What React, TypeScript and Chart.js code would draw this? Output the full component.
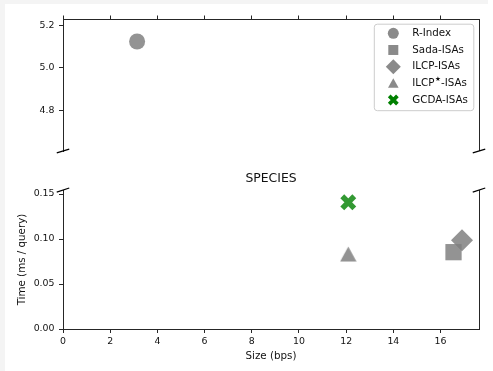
import { useEffect, useRef } from 'react';
import { Chart, registerables } from 'chart.js';

Chart.register(...registerables);

// ---- data ----
const seriesNames = ['R-Index', 'Sada-ISAs', 'ILCP-ISAs', 'ILCP★-ISAs', 'GCDA-ISAs'];
const sizeBps = [3.14, 16.55, 16.91, 12.09, 12.09];
const timeMs = [5.124, 0.0854, 0.0987, 0.0833, 0.1408];
const markerStyles = ['circle', 'rect', 'rectRot', 'triangle', 'crossRot'];

const xTicks = [0, 2, 4, 6, 8, 10, 12, 14, 16];
const xTickLabels = ['0', '2', '4', '6', '8', '10', '12', '14', '16'];
const topYTicks = [4.8, 5.0, 5.2];
const topYTickLabels = ['4.8', '5.0', '5.2'];
const bottomYTicks = [0, 0.05, 0.1, 0.15];
const bottomYTickLabels = ['0.00', '0.05', '0.10', '0.15'];

const titleText = 'SPECIES';
const xTitle = 'Size (bps)';
const yTitle = 'Time (ms / query)';

// ---- axis ranges ----
const X_MIN = 0;
const X_MAX = 17.63;
const TOP_Y_MIN = 4.6095;
const TOP_Y_MAX = 5.2297;
const BOT_Y_MIN = 0;
const BOT_Y_MAX = 0.1544;

// ---- styles ----
const FONT = "'DejaVu Sans', 'Liberation Sans', sans-serif";
const AXIS = '#262626';
const TEXT = '#111111';
const STRIP = '#f4f4f4';
const plotColors = [
  'rgba(128,128,128,0.85)',
  'rgba(128,128,128,0.85)',
  'rgba(128,128,128,0.85)',
  'rgba(128,128,128,0.85)',
  'rgba(0,128,0,0.8)',
];
const legendColors = ['#8a8a8a', '#8a8a8a', '#8a8a8a', '#8a8a8a', '#008000'];
const markerRadius = [8, 11.5, 11, 9.3, 8.5];

// triangle marker centred on its bounding box (like matplotlib '^')
function triangleImage(color: string) {
  const c = document.createElement('canvas');
  c.width = 17;
  c.height = 16;
  const g = c.getContext('2d') as CanvasRenderingContext2D;
  g.fillStyle = color;
  g.beginPath();
  g.moveTo(8.5, 0.5);
  g.lineTo(16.7, 15.5);
  g.lineTo(0.3, 15.5);
  g.closePath();
  g.fill();
  return c;
}

function makeDatasets() {
  return seriesNames.map((name, i) => {
    const style = markerStyles[i];
    const isCross = style === 'crossRot';
    const pointStyle: any = style === 'triangle' ? triangleImage(plotColors[i]) : style;
    return {
      label: name,
      data: [{ x: sizeBps[i], y: timeMs[i] }],
      pointStyle,
      pointRadius: markerRadius[i],
      pointHoverRadius: markerRadius[i],
      backgroundColor: plotColors[i],
      borderColor: plotColors[i],
      borderWidth: isCross ? 5.5 : 0,
      order: seriesNames.length - i,
    };
  });
}

function framePlugin(breakAt: 'top' | 'bottom') {
  return {
    id: 'frame',
    afterDraw(chart: any) {
      const { ctx, chartArea: a } = chart;
      ctx.save();
      ctx.strokeStyle = AXIS;
      ctx.lineWidth = 1;
      const rx = Math.round(a.right - 0.5) + 0.5;
      ctx.beginPath();
      ctx.moveTo(rx, a.top);
      ctx.lineTo(rx, a.bottom);
      ctx.stroke();
      const yb = breakAt === 'bottom' ? a.bottom : a.top;
      const dx = 0.015 * (a.right - a.left);
      const dy = 0.015 * (a.bottom - a.top);
      ctx.strokeStyle = '#000';
      ctx.lineWidth = 1.3;
      for (const x of [a.left, a.right]) {
        ctx.beginPath();
        ctx.moveTo(x - dx, yb + dy);
        ctx.lineTo(x + dx, yb - dy);
        ctx.stroke();
      }
      ctx.restore();
    },
  };
}

function drawLegendMarker(ctx: CanvasRenderingContext2D, style: string, x: number, y: number, color: string) {
  ctx.save();
  ctx.fillStyle = color;
  ctx.strokeStyle = color;
  ctx.beginPath();
  if (style === 'circle') {
    ctx.arc(x, y, 5.5, 0, Math.PI * 2);
    ctx.fill();
  } else if (style === 'rect') {
    ctx.rect(x - 5, y - 5, 10, 10);
    ctx.fill();
  } else if (style === 'rectRot') {
    ctx.moveTo(x, y - 7.5);
    ctx.lineTo(x + 7.5, y);
    ctx.lineTo(x, y + 7.5);
    ctx.lineTo(x - 7.5, y);
    ctx.closePath();
    ctx.fill();
  } else if (style === 'triangle') {
    ctx.moveTo(x, y - 5);
    ctx.lineTo(x + 5.3, y + 4.5);
    ctx.lineTo(x - 5.3, y + 4.5);
    ctx.closePath();
    ctx.fill();
  } else if (style === 'crossRot') {
    const o = 4.1;
    ctx.lineWidth = 3.8;
    ctx.moveTo(x - o, y - o);
    ctx.lineTo(x + o, y + o);
    ctx.moveTo(x + o, y - o);
    ctx.lineTo(x - o, y + o);
    ctx.stroke();
  }
  ctx.restore();
}

const legendPlugin = {
  id: 'customLegend',
  afterDraw(chart: any) {
    const { ctx, chartArea: a } = chart;
    const w = 99.5;
    const h = 86.5;
    const right = a.right - 5.2;
    const top = a.top + 5.2;
    const left = right - w;
    const r = 3;
    ctx.save();
    ctx.beginPath();
    ctx.moveTo(left + r, top);
    ctx.lineTo(right - r, top);
    ctx.arcTo(right, top, right, top + r, r);
    ctx.lineTo(right, top + h - r);
    ctx.arcTo(right, top + h, right - r, top + h, r);
    ctx.lineTo(left + r, top + h);
    ctx.arcTo(left, top + h, left, top + h - r, r);
    ctx.lineTo(left, top + r);
    ctx.arcTo(left, top, left + r, top, r);
    ctx.closePath();
    ctx.fillStyle = 'rgba(255,255,255,0.8)';
    ctx.fill();
    ctx.strokeStyle = '#cccccc';
    ctx.lineWidth = 1;
    ctx.stroke();

    const mainFont = `10.3px ${FONT}`;
    const supFont = `6.5px ${FONT}`;
    seriesNames.forEach((name, i) => {
      const cy = top + 9.1 + i * 16.67;
      drawLegendMarker(ctx, markerStyles[i], left + 19, cy, legendColors[i]);
      ctx.fillStyle = TEXT;
      ctx.textBaseline = 'middle';
      ctx.textAlign = 'left';
      let tx = left + 38;
      const parts = name.split('★');
      ctx.font = mainFont;
      if (parts.length === 2) {
        ctx.fillText(parts[0], tx, cy);
        tx += ctx.measureText(parts[0]).width + 0.6;
        ctx.font = supFont;
        ctx.fillText('★', tx, cy - 3.6);
        tx += ctx.measureText('★').width + 0.2;
        ctx.font = mainFont;
        ctx.fillText(parts[1], tx, cy);
      } else {
        ctx.fillText(name, tx, cy);
      }
    });
    ctx.restore();
  },
};

const tickFont = { family: FONT, size: 9.4 };
const labelFont = { family: FONT, size: 10.3 };

function yAxis(min: number, max: number, ticks: number[], labels: string[], title?: string) {
  return {
    type: 'linear' as const,
    position: 'left' as const,
    min,
    max,
    afterBuildTicks: (s: any) => {
      s.ticks = ticks.map((v) => ({ value: v }));
    },
    ticks: {
      font: tickFont,
      color: TEXT,
      padding: 4.5,
      callback: (_v: any, i: number) => labels[i],
    },
    grid: { drawOnChartArea: false, drawTicks: true, tickLength: 4, color: AXIS, lineWidth: 1 },
    border: { display: true, color: AXIS, width: 1 },
    title: title
      ? { display: true, text: title, font: labelFont, color: TEXT, padding: { top: 15.8, bottom: 0 } }
      : { display: false },
    afterFit: (s: any) => {
      s.width = 63;
    },
  };
}

function topConfig(): any {
  return {
    type: 'scatter',
    data: { datasets: makeDatasets() },
    options: {
      animation: false,
      responsive: false,
      devicePixelRatio: 1,
      events: [],
      layout: { padding: { left: 0, right: 12, top: 0, bottom: 6 } },
      plugins: { legend: { display: false }, tooltip: { enabled: false }, title: { display: false } },
      scales: {
        x: {
          type: 'linear',
          position: 'top',
          min: X_MIN,
          max: X_MAX,
          afterBuildTicks: (s: any) => {
            s.ticks = xTicks.map((v) => ({ value: v }));
          },
          ticks: { font: tickFont, color: 'rgba(0,0,0,0)', callback: (_v: any, i: number) => xTickLabels[i] },
          grid: { drawOnChartArea: false, drawTicks: true, tickLength: 3.5, color: AXIS, lineWidth: 1 },
          border: { display: true, color: AXIS, width: 1 },
          afterFit: (s: any) => {
            s.height = 19;
          },
        },
        y: yAxis(TOP_Y_MIN, TOP_Y_MAX, topYTicks, topYTickLabels),
      },
    },
    plugins: [framePlugin('bottom'), legendPlugin],
  };
}

function bottomConfig(): any {
  return {
    type: 'scatter',
    data: { datasets: makeDatasets() },
    options: {
      animation: false,
      responsive: false,
      devicePixelRatio: 1,
      events: [],
      layout: { padding: { left: 0, right: 12, top: 0, bottom: 0 } },
      plugins: {
        legend: { display: false },
        tooltip: { enabled: false },
        title: {
          display: true,
          text: titleText,
          fullSize: false,
          color: TEXT,
          font: { family: FONT, size: 12.4, weight: 'normal' },
          padding: { top: 6, bottom: 4.2 },
        },
      },
      scales: {
        x: {
          type: 'linear',
          position: 'bottom',
          min: X_MIN,
          max: X_MAX,
          afterBuildTicks: (s: any) => {
            s.ticks = xTicks.map((v) => ({ value: v }));
          },
          ticks: { font: tickFont, color: TEXT, padding: 3, maxRotation: 0, callback: (_v: any, i: number) => xTickLabels[i] },
          grid: { drawOnChartArea: false, drawTicks: true, tickLength: 4, color: AXIS, lineWidth: 1 },
          border: { display: true, color: AXIS, width: 1 },
          title: { display: true, text: xTitle, font: labelFont, color: TEXT, padding: { top: 0, bottom: 8 } },
          afterFit: (s: any) => {
            s.height = 42;
          },
        },
        y: yAxis(BOT_Y_MIN, BOT_Y_MAX, bottomYTicks, bottomYTickLabels, yTitle),
      },
    },
    plugins: [framePlugin('top')],
  };
}

export default function App() {
  const topRef = useRef<HTMLCanvasElement>(null);
  const botRef = useRef<HTMLCanvasElement>(null);

  useEffect(() => {
    const top = new Chart(topRef.current as HTMLCanvasElement, topConfig());
    const bot = new Chart(botRef.current as HTMLCanvasElement, bottomConfig());
    return () => {
      top.destroy();
      bot.destroy();
    };
  }, []);

  return (
    <div style={{ position: 'fixed', left: 0, top: 0, width: 493, height: 371, background: '#ffffff', overflow: 'hidden' }}>
      <div style={{ position: 'absolute', left: 0, top: 0, width: 488, height: 4, background: STRIP }} />
      <div style={{ position: 'absolute', left: 0, top: 0, width: 5, height: 371, background: STRIP }} />
      <canvas
        ref={topRef}
        width={493}
        height={165}
        style={{ position: 'absolute', left: 0, top: 0, width: 493, height: 165 }}
      />
      <canvas
        ref={botRef}
        width={493}
        height={206}
        style={{ position: 'absolute', left: 0, top: 165, width: 493, height: 206 }}
      />
    </div>
  );
}
